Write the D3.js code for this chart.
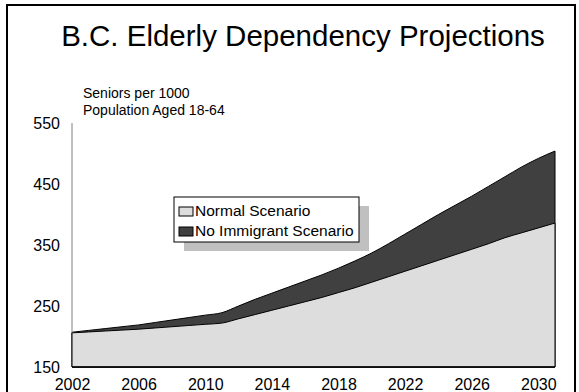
<!DOCTYPE html>
<html>
<head>
<meta charset="utf-8">
<script src="https://cdn.jsdelivr.net/npm/d3@7"></script>
<style>
  body { margin: 0; background: #fff; }
  text { font-family: "Liberation Sans", Arial, sans-serif; fill: #000; }
</style>
</head>
<body>
<div class="chart"></div>
<script>
// data
const years = d3.range(2002, 2032);
const normal = [206, 207.5, 209, 210.5, 212, 214, 216, 218, 220, 222,
  229, 236, 243, 250, 257, 264, 272, 280, 289, 298,
  307, 316, 325, 334, 343, 352, 362, 370, 378, 386];
const noImmigrant = [207, 210, 213, 216, 219, 223, 227, 231, 235, 239,
  250, 261, 271, 281, 291, 301, 312, 324, 337, 352,
  368, 384, 400, 415, 430, 446, 462, 478, 492, 504];
const xTicks = [2002, 2006, 2010, 2014, 2018, 2022, 2026, 2030];
const yTicks = [150, 250, 350, 450, 550];
const seriesNames = ['Normal Scenario', 'No Immigrant Scenario'];

const width = 579;
const height = 392;
const svg = d3.select('.chart')
  .append('svg')
  .attr('width', width)
  .attr('height', height);

// outer frame
svg.append('rect')
  .attr('x', 7).attr('y', 5)
  .attr('width', 568).attr('height', 400)
  .attr('fill', 'none')
  .attr('stroke', '#000')
  .attr('stroke-width', 2);

svg.append('text')
  .attr('x', 303).attr('y', 46)
  .attr('text-anchor', 'middle')
  .attr('font-size', '29.5px')
  .text('B.C. Elderly Dependency Projections');

const x = d3.scaleLinear().domain([2002, 2031]).range([72, 555]);
const y = d3.scaleLinear().domain([150, 550]).range([367, 123]);

const data = years.map((yr, i) => ({year: yr, n: normal[i], m: noImmigrant[i]}));

// No Immigrant area first, normal on top
svg.append('path')
  .datum(data)
  .attr('d', d3.area().curve(d3.curveMonotoneX).x(d => x(d.year)).y0(y(150)).y1(d => y(d.m)))
  .attr('fill', '#404040')
  .attr('stroke', '#000')
  .attr('stroke-width', 1);

svg.append('path')
  .datum(data)
  .attr('d', d3.area().curve(d3.curveMonotoneX).x(d => x(d.year)).y0(y(150)).y1(d => y(d.n)))
  .attr('fill', '#dddddd')
  .attr('stroke', '#000')
  .attr('stroke-width', 1);

// axis lines
svg.append('line')
  .attr('x1', x(2002)).attr('x2', x(2002))
  .attr('y1', y(550)).attr('y2', y(206))
  .attr('stroke', '#808080');
svg.append('line')
  .attr('x1', x(2002)).attr('x2', x(2031))
  .attr('y1', y(150)).attr('y2', y(150))
  .attr('stroke', '#000')
  .attr('stroke-width', 1.5);

// tick labels
const yAxis = svg.append('g')
  .attr('transform', 'translate(' + (x(2002) - 12) + ',0)')
  .call(d3.axisLeft(y).tickValues(yTicks).tickSize(0).tickPadding(0));
yAxis.select('.domain').remove();
yAxis.selectAll('text')
  .attr('font-size', '16px')
  .attr('font-family', '"Liberation Sans", Arial, sans-serif')
  .attr('fill', '#000');

const xAxis = svg.append('g')
  .attr('transform', 'translate(0,' + (y(150) + 12) + ')')
  .call(d3.axisBottom(x).tickValues(xTicks).tickFormat(d3.format('d')).tickSize(0).tickPadding(0));
xAxis.select('.domain').remove();
xAxis.selectAll('text')
  .attr('font-size', '16px')
  .attr('font-family', '"Liberation Sans", Arial, sans-serif')
  .attr('fill', '#000');

// y axis title
svg.append('text')
  .attr('x', 83).attr('y', 98)
  .attr('font-size', '14px')
  .text('Seniors per 1000');
svg.append('text')
  .attr('x', 83).attr('y', 115)
  .attr('font-size', '14px')
  .text('Population Aged 18-64');

// legend
const legend = svg.append('g').attr('transform', 'translate(174,197)');
legend.append('rect')
  .attr('x', 10).attr('y', 9)
  .attr('width', 185).attr('height', 45)
  .attr('fill', '#c0c0c0');
legend.append('rect')
  .attr('x', 0).attr('y', 0)
  .attr('width', 185).attr('height', 45)
  .attr('fill', '#fff')
  .attr('stroke', '#000');
legend.selectAll('rect.sw')
  .data(seriesNames)
  .enter()
  .append('rect')
  .attr('class', 'sw')
  .attr('x', 5)
  .attr('y', (d, i) => 10 + i * 20)
  .attr('width', 14)
  .attr('height', 9)
  .attr('fill', (d, i) => i === 0 ? '#dddddd' : '#404040')
  .attr('stroke', '#000');
legend.selectAll('text.lbl')
  .data(seriesNames)
  .enter()
  .append('text')
  .attr('class', 'lbl')
  .attr('x', 21)
  .attr('y', (d, i) => 19 + i * 20)
  .attr('font-size', '15.5px')
  .text(d => d);
</script>
</body>
</html>
